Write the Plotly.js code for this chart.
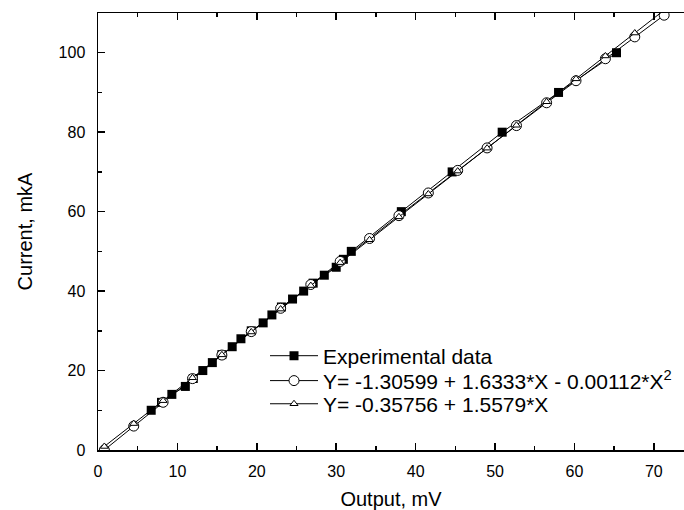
<!DOCTYPE html>
<html>
<head>
<meta charset="utf-8">
<script src="https://cdn.plot.ly/plotly-3.0.1.min.js"></script>
<style>html,body{margin:0;padding:0;background:#fff;}#chart{width:684px;height:510px;}</style>
</head>
<body>
<div id="chart"></div>
<script>
// Experimental data
const expOutput = [6.7, 8.0, 9.3, 11.0, 12.0, 13.2, 14.4, 15.6, 16.9, 18.0, 19.3, 20.8, 21.9, 23.1, 24.5, 25.9, 27.1, 28.5, 30.0, 30.9, 31.9, 38.2, 44.6, 50.9, 58.0, 65.3];
const expCurrent = [10, 12, 14, 16, 18, 20, 22, 24, 26, 28, 30, 32, 34, 36, 38, 40, 42, 44, 46, 48, 50, 60, 70, 80, 90, 100];
// Fit curves
const fitOutput = [0.8, 4.5, 8.2, 11.9, 15.6, 19.3, 23.0, 26.8, 30.5, 34.2, 37.9, 41.6, 45.3, 49.0, 52.7, 56.5, 60.2, 63.9, 67.6, 71.3];
const quadCurrent = [0.0, 6.02, 12.01, 17.97, 23.90, 29.80, 35.67, 41.66, 47.47, 53.24, 58.99, 64.70, 70.38, 76.04, 81.66, 87.40, 92.96, 98.49, 103.99, 109.45];
const linCurrent = [0.89, 6.65, 12.42, 18.18, 23.95, 29.71, 35.47, 41.39, 47.16, 52.92, 58.69, 64.45, 70.21, 75.98, 81.74, 87.66, 93.43, 99.19, 104.96, 110.72];
const seriesNames = ["Experimental data", "Y= -1.30599 + 1.6333*X - 0.00112*X<sup>2</sup>", "Y= -0.35756 + 1.5579*X"];
const xTitle = "Output, mV";
const yTitle = "Current, mkA";

const FONT = "Liberation Sans, Arial, Helvetica, sans-serif";

const traces = [
  {x: expOutput, y: expCurrent, name: seriesNames[0], type: "scatter", mode: "lines+markers", legend: "legend",
   line: {color: "#000", width: 1},
   marker: {symbol: "square", size: 9, color: "#000", line: {color: "#000", width: 0}}},
  {x: fitOutput, y: quadCurrent, name: seriesNames[1], type: "scatter", mode: "lines+markers", legend: "legend2",
   line: {color: "#000", width: 1},
   marker: {symbol: "circle", size: 10, color: "#fff", line: {color: "#000", width: 1}}},
  {x: fitOutput, y: linCurrent, name: seriesNames[2], type: "scatter", mode: "lines+markers", legend: "legend3",
   line: {color: "#000", width: 1},
   marker: {symbol: "triangle-up", size: 7, color: "#fff", line: {color: "#000", width: 1}}}
];

function legendAt(yPaper) {
  return {x: 0.285, y: yPaper, xanchor: "left", yanchor: "middle", bgcolor: "rgba(0,0,0,0)",
          borderwidth: 0, itemwidth: 48, font: {family: FONT, size: 21, color: "#000"}};
}

const layout = {
  width: 684, height: 510,
  margin: {l: 98, r: 0, t: 13, b: 60, pad: 0},
  paper_bgcolor: "#fff", plot_bgcolor: "#fff",
  font: {family: FONT, color: "#000", size: 16},
  showlegend: true,
  legend: legendAt(0.215),
  legend2: legendAt(0.158),
  legend3: legendAt(0.105),
  xaxis: {
    range: [0, 73.8], showgrid: false, zeroline: false,
    showline: true, linecolor: "#000", linewidth: 1.5, mirror: "ticks",
    ticks: "inside", ticklen: 7, tickwidth: 1.5, tickcolor: "#000",
    tick0: 0, dtick: 10, ticklabelstandoff: 6,
    minor: {ticks: "inside", dtick: 5, ticklen: 4, tickwidth: 1.5, tickcolor: "#000"},
    tickfont: {family: FONT, size: 16, color: "#000"},
    title: {text: xTitle, font: {family: FONT, size: 20, color: "#000"}, standoff: 14}
  },
  yaxis: {
    range: [0, 110], showgrid: false, zeroline: false,
    showline: true, linecolor: "#000", linewidth: 1.5, mirror: false,
    ticks: "inside", ticklen: 7, tickwidth: 1.5, tickcolor: "#000",
    tick0: 0, dtick: 20, ticklabelstandoff: 8,
    minor: {ticks: "inside", dtick: 10, ticklen: 4, tickwidth: 1.5, tickcolor: "#000"},
    tickfont: {family: FONT, size: 16, color: "#000"},
    title: {text: yTitle, font: {family: FONT, size: 20, color: "#000"}, standoff: 20}
  }
};

Plotly.newPlot("chart", traces, layout, {displayModeBar: false, staticPlot: true});
</script>
</body>
</html>
